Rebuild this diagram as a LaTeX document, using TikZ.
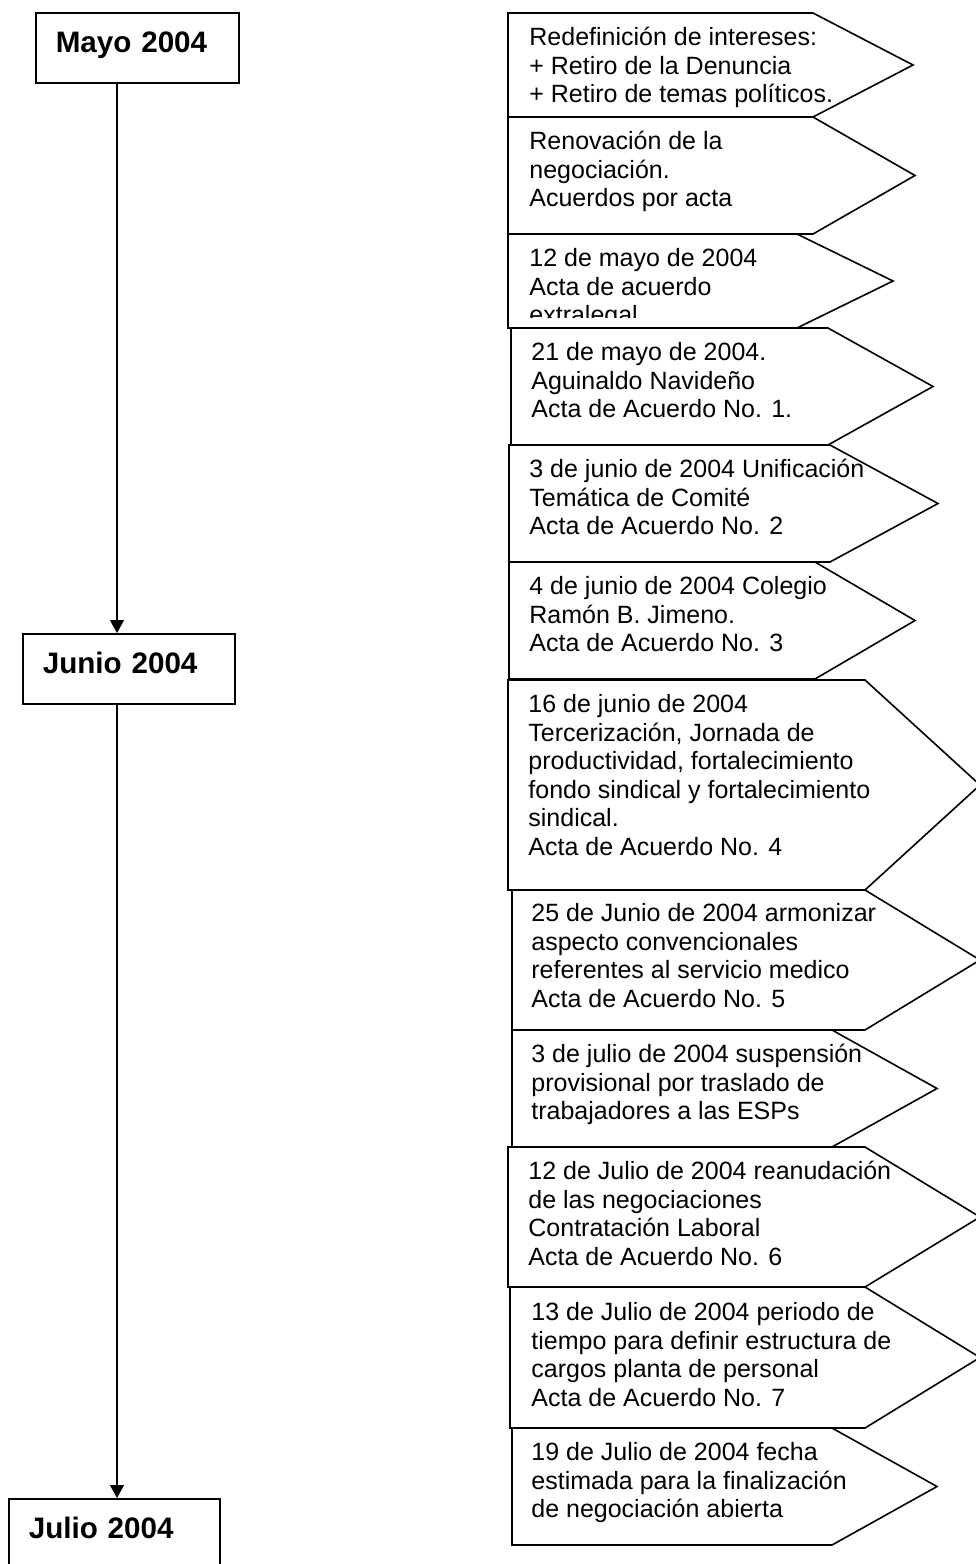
\documentclass[tikz,border=0pt]{standalone}
\usepackage{fontspec}
\setmainfont{Liberation Sans}
\usepackage{tikz}
\usetikzlibrary{arrows.meta,positioning}
\tikzset{mes/.style={draw, line width=0.8pt, anchor=north west, font=\fontsize{14.8}{16}\selectfont\bfseries, inner xsep=10pt, inner ysep=0pt, text height=20pt, text depth=15pt, align=left}, evento/.style={draw, line width=0.8pt, line join=miter}, txt/.style={anchor=north west, inner sep=0pt, align=left, font=\fontsize{12.5}{14.3}\selectfont}, flecha/.style={-{Triangle[length=6.5pt,width=7pt]}, line width=0.6pt}}

\begin{document}
\begin{tikzpicture}[x=0.5pt,y=-0.5pt]
\useasboundingbox (0,0) rectangle (975,1564);
% meses
\node[mes, text width=81.5pt] (mayo) at (35,12) {Mayo 2004};
\node[mes, text width=86pt] (junio) at (22,633) {Junio 2004};
\node[mes, text width=85.5pt] (julio) at (8,1498) {Julio 2004};
\coordinate (eje) at (117,0);
\draw[flecha] (mayo.south -| eje) -- (junio.north -| eje);
\draw[flecha] (junio.south -| eje) -- (julio.north -| eje);
% flechas de eventos
\foreach \l/\t/\b/\s/\p in {508/13/117/813/913, 508/117/234/813/915, 508/234/328/797/893, 511/328/445/828/933, 509/445/562/830/938, 509/562/679/815/915, 508/680/890/865/980, 512/890/1030/865/980, 512/1030/1147/832/937, 508/1147/1287/865/980, 510/1287/1428/865/980, 512/1428/1545/832/937} {\draw[evento] (\l,\t) -- (\s,\t) -- (\p,{(\t+\b)/2}) -- (\s,\b) -- (\l,\b) -- cycle;}
% textos
\node[txt] (e1) at (529,25) {\strut Redefinición de intereses:\\+ Retiro de la Denuncia\\+ Retiro de temas políticos.};
\node[txt] (e2) at (529,129) {\strut Renovación de la\\negociación.\\Acuerdos por acta};
\begin{scope}
\clip (508,234) rectangle (893,317);
\node[txt] (e3) at (529,246) {\strut 12 de mayo de 2004\\Acta de acuerdo\\extralegal};
\end{scope}
\node[txt] (e4) at (531,340) {\strut 21 de mayo de 2004.\\Aguinaldo Navideño\\Acta de Acuerdo No. 1.};
\node[txt] (e5) at (529,457) {\strut 3 de junio de 2004 Unificación\\Temática de Comité\\Acta de Acuerdo No. 2};
\node[txt] (e6) at (529,574) {\strut 4 de junio de 2004 Colegio\\Ramón B. Jimeno.\\Acta de Acuerdo No. 3};
\node[txt] (e7) at (528,692) {\strut 16 de junio de 2004\\Tercerización, Jornada de\\productividad, fortalecimiento\\fondo sindical y fortalecimiento\\sindical.\\Acta de Acuerdo No. 4};
\node[txt] (e8) at (531,901) {\strut 25 de Junio de 2004 armonizar\\aspecto convencionales\\referentes al servicio medico\\Acta de Acuerdo No. 5};
\node[txt] (e9) at (531,1042) {\strut 3 de julio de 2004 suspensión\\provisional por traslado de\\trabajadores a las ESPs};
\node[txt] (e10) at (528,1159) {\strut 12 de Julio de 2004 reanudación\\de las negociaciones\\Contratación Laboral\\Acta de Acuerdo No. 6};
\node[txt] (e11) at (531,1300) {\strut 13 de Julio de 2004 periodo de\\tiempo para definir estructura de\\cargos planta de personal\\Acta de Acuerdo No. 7};
\node[txt] (e12) at (531,1440) {\strut 19 de Julio de 2004 fecha\\estimada para la finalización\\de negociación abierta};
\end{tikzpicture}
\end{document}
